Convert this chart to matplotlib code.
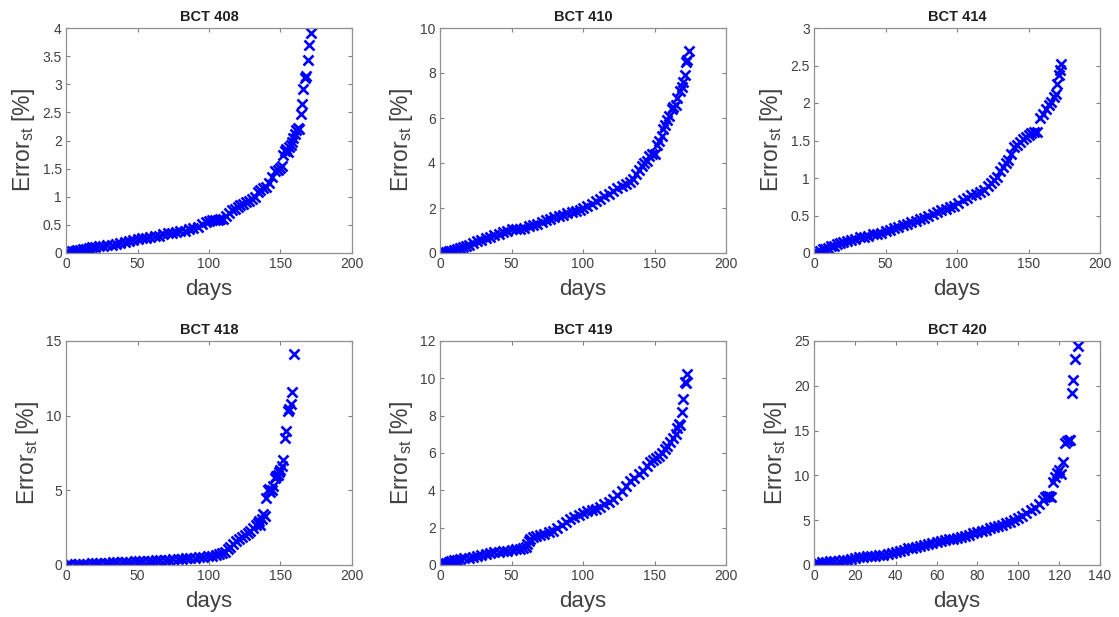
import matplotlib
matplotlib.use("Agg")
import matplotlib.pyplot as plt

plt.rcParams["font.family"] = ["Liberation Sans", "DejaVu Sans"]
plt.rcParams["mathtext.fontset"] = "custom"
plt.rcParams["mathtext.rm"] = "Liberation Sans"
plt.rcParams["mathtext.it"] = "Liberation Sans"

# BCT 408
days_408 = [0, 2, 4, 6, 8, 10, 12, 14, 16, 18, 20, 23, 26, 29, 32, 35, 38, 41, 44,
            47, 50, 53, 56, 59, 62, 65, 68, 71, 74, 77, 80, 83, 86, 89, 92, 95, 98,
            100, 102, 104, 106, 108, 110, 112, 114, 116, 118, 120, 122, 124, 126,
            128, 130, 132, 134, 136, 138, 140, 142, 144, 146, 148, 150, 151, 152,
            153, 154, 155, 156, 157, 158, 159, 160, 161, 162, 163, 164, 165, 166,
            167, 168, 169, 170, 171]
err_408 = [0.00, 0.02, 0.03, 0.04, 0.05, 0.06, 0.07, 0.08, 0.09, 0.10, 0.10, 0.12,
           0.13, 0.14, 0.15, 0.16, 0.17, 0.19, 0.21, 0.24, 0.25, 0.26, 0.27, 0.28,
           0.30, 0.31, 0.33, 0.35, 0.36, 0.38, 0.39, 0.40, 0.42, 0.44, 0.47, 0.51,
           0.55, 0.57, 0.58, 0.58, 0.59, 0.60, 0.61, 0.65, 0.72, 0.76, 0.79, 0.82,
           0.85, 0.88, 0.90, 0.93, 0.96, 1.00, 1.08, 1.12, 1.15, 1.18, 1.25, 1.35,
           1.45, 1.48, 1.52, 1.55, 1.75, 1.82, 1.85, 1.80, 1.88, 1.92, 1.98, 2.05,
           2.12, 2.18, 2.22, 2.20, 2.47, 2.65, 2.92, 3.12, 3.15, 3.43, 3.70, 3.91]

# BCT 410
days_410 = [0, 2, 4, 6, 8, 10, 12, 14, 16, 18, 20, 23, 26, 29, 32, 35, 38, 41, 44,
            47, 50, 53, 56, 59, 62, 65, 68, 71, 74, 77, 80, 83, 86, 89, 92, 95, 98,
            100, 103, 106, 109, 112, 115, 118, 121, 124, 127, 130, 133, 135, 137,
            139, 141, 143, 145, 146, 148, 150, 152, 153, 155, 156, 157, 159, 160,
            162, 163, 165, 166, 168, 169, 170, 171, 172, 173, 174]
err_410 = [0.00, 0.03, 0.05, 0.08, 0.10, 0.12, 0.18, 0.22, 0.26, 0.30, 0.34, 0.45,
           0.52, 0.60, 0.66, 0.72, 0.78, 0.84, 0.92, 0.98, 1.05, 1.05, 1.08, 1.12,
           1.18, 1.24, 1.30, 1.38, 1.45, 1.52, 1.58, 1.64, 1.70, 1.76, 1.82, 1.86,
           1.92, 1.98, 2.10, 2.20, 2.30, 2.42, 2.52, 2.64, 2.76, 2.88, 2.98, 3.05,
           3.15, 3.30, 3.50, 3.70, 3.85, 4.00, 4.10, 4.30, 4.40, 4.40, 4.80, 5.00,
           5.20, 5.50, 5.70, 5.90, 6.10, 6.40, 6.50, 6.60, 6.90, 7.20, 7.40, 7.60,
           7.90, 8.50, 8.60, 9.00]

# BCT 414
days_414 = [0, 2, 4, 6, 8, 10, 12, 14, 16, 18, 20, 23, 26, 29, 32, 35, 38, 41, 44,
            47, 50, 53, 56, 59, 62, 65, 68, 71, 74, 77, 80, 83, 86, 89, 92, 95, 98,
            101, 104, 107, 110, 113, 116, 119, 122, 124, 126, 128, 130, 132, 134,
            136, 138, 140, 142, 144, 146, 148, 150, 152, 154, 156, 158, 160, 162,
            164, 166, 168, 169, 170, 171, 172, 173]
err_414 = [0.00, 0.02, 0.03, 0.05, 0.06, 0.07, 0.09, 0.10, 0.12, 0.14, 0.15, 0.16,
           0.18, 0.19, 0.21, 0.22, 0.23, 0.25, 0.26, 0.27, 0.29, 0.31, 0.33, 0.35,
           0.37, 0.39, 0.41, 0.43, 0.45, 0.47, 0.49, 0.52, 0.55, 0.57, 0.59, 0.61,
           0.63, 0.67, 0.71, 0.74, 0.77, 0.79, 0.81, 0.84, 0.89, 0.93, 0.97, 1.02,
           1.10, 1.15, 1.20, 1.24, 1.32, 1.42, 1.44, 1.48, 1.52, 1.55, 1.58, 1.60,
           1.62, 1.62, 1.80, 1.86, 1.92, 1.98, 2.02, 2.08, 2.12, 2.26, 2.38, 2.44,
           2.52]

# BCT 418
days_418 = [0, 3, 6, 9, 12, 15, 18, 21, 24, 27, 30, 33, 36, 39, 42, 45, 48, 51, 54,
            57, 60, 63, 66, 69, 72, 75, 78, 81, 84, 87, 90, 93, 96, 99, 102, 105,
            107, 109, 111, 113, 115, 117, 119, 121, 123, 125, 127, 129, 131, 133,
            134, 135, 136, 137, 138, 139, 140, 141, 142, 143, 144, 145, 146, 147,
            148, 149, 150, 151, 152, 153, 153.5, 155, 156, 157, 158, 159.5]
err_418 = [0.02, 0.04, 0.06, 0.08, 0.09, 0.10, 0.11, 0.12, 0.14, 0.15, 0.16, 0.17,
           0.18, 0.20, 0.21, 0.23, 0.24, 0.26, 0.27, 0.29, 0.30, 0.32, 0.33, 0.35,
           0.36, 0.38, 0.40, 0.42, 0.44, 0.46, 0.48, 0.51, 0.54, 0.58, 0.62, 0.66,
           0.72, 0.80, 0.90, 1.05, 1.22, 1.40, 1.58, 1.72, 1.85, 2.00, 2.15, 2.30,
           2.50, 2.70, 2.80, 2.95, 2.70, 3.10, 3.40, 3.30, 4.50, 5.00, 5.10, 4.90,
           5.05, 5.30, 5.80, 5.95, 6.00, 6.20, 6.35, 6.60, 7.05, 8.50, 8.95, 10.30,
           10.45, 10.80, 11.60, 14.10]

# BCT 419
days_419 = [0, 2, 4, 6, 8, 10, 12, 14, 17, 20, 23, 26, 29, 32, 35, 38, 41, 44, 47,
            50, 53, 56, 58, 60, 61, 62, 63, 65, 67, 70, 73, 76, 79, 82, 85, 88, 91,
            94, 97, 100, 103, 106, 109, 112, 115, 118, 121, 124, 127, 130, 133, 136,
            139, 142, 145, 147, 149, 151, 153, 155, 157, 159, 161, 163, 165, 166,
            167, 168, 169, 170, 171, 172, 173]
err_419 = [0.05, 0.10, 0.12, 0.18, 0.22, 0.25, 0.28, 0.32, 0.36, 0.40, 0.45, 0.50,
           0.56, 0.60, 0.64, 0.68, 0.71, 0.74, 0.77, 0.80, 0.84, 0.87, 0.90, 0.94,
           1.10, 1.30, 1.40, 1.48, 1.55, 1.60, 1.68, 1.76, 1.84, 2.00, 2.15, 2.30,
           2.45, 2.58, 2.70, 2.80, 2.90, 2.95, 3.00, 3.12, 3.25, 3.40, 3.55, 3.75,
           3.95, 4.25, 4.50, 4.65, 4.85, 5.05, 5.30, 5.50, 5.60, 5.75, 5.85, 6.00,
           6.20, 6.40, 6.60, 6.80, 7.00, 7.35, 7.55, 7.50, 8.20, 8.90, 9.80, 9.75,
           10.25]

# BCT 420
days_420 = [0, 2, 4, 6, 8, 10, 12, 14, 16, 18, 20, 22, 24, 26, 28, 30, 32, 34, 36,
            38, 40, 42, 44, 46, 48, 50, 52, 54, 56, 58, 60, 62, 64, 66, 68, 70, 72,
            74, 76, 78, 80, 82, 84, 86, 88, 90, 92, 94, 96, 98, 100, 102, 104, 106,
            108, 110, 112, 113, 114, 115, 116, 117, 118, 119, 120, 121, 122, 123,
            124, 125, 125.5, 126.5, 127, 128, 129]
err_420 = [0.10, 0.20, 0.30, 0.35, 0.40, 0.45, 0.50, 0.55, 0.60, 0.70, 0.80, 0.85,
           0.90, 0.95, 1.00, 1.05, 1.10, 1.15, 1.25, 1.35, 1.45, 1.55, 1.70, 1.85,
           1.95, 2.05, 2.15, 2.25, 2.35, 2.45, 2.55, 2.65, 2.75, 2.85, 2.95, 3.05,
           3.15, 3.25, 3.40, 3.55, 3.70, 3.80, 3.95, 4.10, 4.20, 4.35, 4.50, 4.65,
           4.80, 5.00, 5.20, 5.50, 5.80, 6.10, 6.40, 6.80, 7.30, 7.60, 7.70, 7.70,
           7.60, 9.30, 9.80, 10.30, 10.60, 10.20, 11.50, 13.60, 13.80, 14.00, 13.90,
           19.20, 20.60, 23.00, 24.40]

titles = ["BCT 408", "BCT 410", "BCT 414", "BCT 418", "BCT 419", "BCT 420"]
days = [days_408, days_410, days_414, days_418, days_419, days_420]
errors = [err_408, err_410, err_414, err_418, err_419, err_420]
xlims = [200, 200, 200, 200, 200, 140]
ylims = [4, 10, 3, 15, 12, 25]
xsteps = [50, 50, 50, 50, 50, 20]
ysteps = [0.5, 2, 0.5, 5, 2, 5]

W, H = 1119, 617
lefts = [66, 440, 814]
rows = [(28, 253), (341, 565)]
axw = 286

fig = plt.figure(figsize=(W / 100, H / 100), dpi=100)
text_col = "#404040"

for i in range(6):
    r, c = divmod(i, 3)
    top, bot = rows[r]
    ax = fig.add_axes([lefts[c] / W, 1 - bot / H, axw / W, (bot - top) / H])
    ax.plot(days[i], errors[i], linestyle="none", marker="x", color="#0000ff",
            markersize=6.5, markeredgewidth=1.9)
    ax.set_xlim(0, xlims[i])
    ax.set_ylim(0, ylims[i])
    xt = [k * xsteps[i] for k in range(int(xlims[i] / xsteps[i]) + 1)]
    yt = [k * ysteps[i] for k in range(int(round(ylims[i] / ysteps[i])) + 1)]
    ax.set_xticks(xt)
    ax.set_yticks(yt)
    ax.set_xticklabels([f"{v:g}" for v in xt])
    ax.set_yticklabels([f"{v:g}" for v in yt])
    ax.tick_params(direction="in", top=True, right=True, length=3, width=0.8,
                   colors="#808080", labelcolor=text_col, labelsize=10, pad=3)
    for s in ax.spines.values():
        s.set_color("#909090")
        s.set_linewidth(0.9)
    ax.set_title(titles[i], fontsize=10.5, fontweight="bold", color="#202020", pad=5)
    ax.set_xlabel("days", fontsize=16, color=text_col, labelpad=6)
    ax.set_ylabel(r"Error$_{\mathrm{st}}$ [%]", fontsize=16.5, color=text_col,
                  labelpad=4)

fig.savefig("out.png", dpi=100)
